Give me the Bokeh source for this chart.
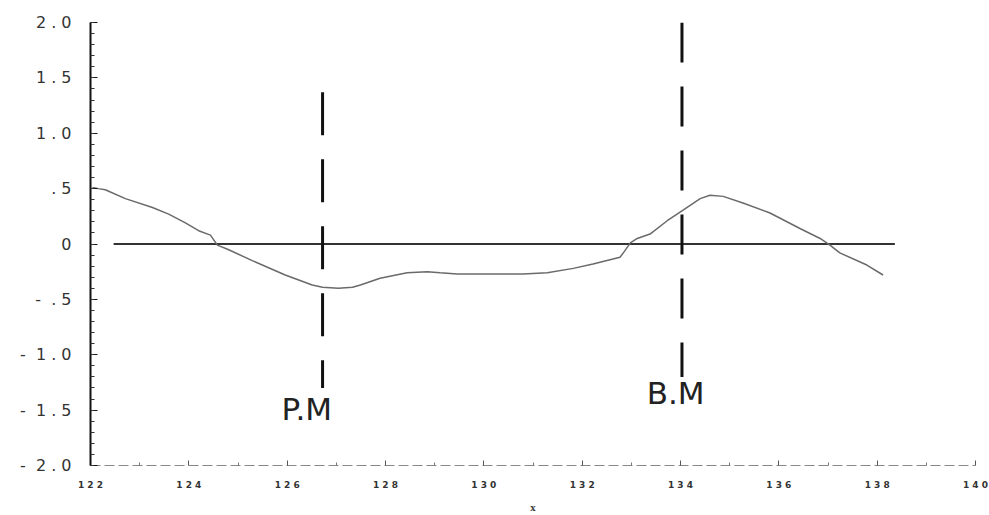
from bokeh.plotting import figure
from bokeh.models import FixedTicker, Label
from bokeh.embed import file_html
from bokeh.resources import INLINE

# Data
curve_x = [122.04, 122.16, 122.30, 122.71, 123.26, 123.59, 123.93, 124.20, 124.44, 124.58,
           124.80, 125.29, 125.96, 126.51, 126.72, 127.04, 127.33, 127.49, 127.89, 128.44,
           128.85, 129.11, 129.46, 130.13, 130.80, 131.29, 131.82, 132.22, 132.77, 132.87,
           132.98, 133.12, 133.38, 133.73, 134.03, 134.40, 134.60, 134.87, 135.27, 135.82,
           136.43, 136.84, 137.04, 137.24, 137.79, 138.12]
curve_y = [0.51, 0.50, 0.49, 0.41, 0.33, 0.27, 0.19, 0.12, 0.08, -0.01,
           -0.05, -0.15, -0.28, -0.37, -0.39, -0.40, -0.39, -0.37, -0.31, -0.26,
           -0.25, -0.26, -0.27, -0.27, -0.27, -0.26, -0.22, -0.18, -0.12, -0.06,
           0.01, 0.05, 0.09, 0.21, 0.30, 0.41, 0.44, 0.43, 0.37, 0.28,
           0.14, 0.05, -0.01, -0.08, -0.19, -0.28]

zero_x = [122.47, 138.36]
zero_y = [0.0, 0.0]

pm_x = [126.72, 126.72]
pm_y = [1.37, -1.30]
bm_x = [134.03, 134.03]
bm_y = [2.0, -1.20]

x_ticks = [122, 124, 126, 128, 130, 132, 134, 136, 138, 140]
x_tick_labels = ["1 2 2", "1 2 4", "1 2 6", "1 2 8", "1 3 0",
                 "1 3 2", "1 3 4", "1 3 6", "1 3 8", "1 4 0"]
y_ticks = [2.0, 1.5, 1.0, 0.5, 0.0, -0.5, -1.0, -1.5, -2.0]
y_tick_labels = ["2 . 0", "1 . 5", "1 . 0", ". 5", "0",
                 "-\u00a0 . 5", "-\u00a0 1 . 0", "-\u00a0 1 . 5", "-\u00a0 2 . 0"]

p = figure(width=989, height=515, x_range=(122, 140), y_range=(-2.0, 2.0),
           output_backend="svg", toolbar_location=None,
           min_border_left=90, min_border_right=14, min_border_top=22, min_border_bottom=50)
p.outline_line_color = None
p.xgrid.visible = False
p.ygrid.visible = False
p.background_fill_color = "white"

# y axis
p.yaxis.ticker = FixedTicker(ticks=y_ticks,
                             minor_ticks=[round(-2.0 + 0.1 * i, 2) for i in range(41)])
p.yaxis.major_label_overrides = {t: l for t, l in zip(y_ticks, y_tick_labels)}
p.yaxis.axis_line_color = "#111111"
p.yaxis.axis_line_width = 2
p.yaxis.major_tick_in = 7
p.yaxis.major_tick_out = 0
p.yaxis.minor_tick_in = 4
p.yaxis.minor_tick_out = 0
p.yaxis.major_tick_line_color = "#111111"
p.yaxis.minor_tick_line_color = "#333333"
p.yaxis.major_label_text_font = "DejaVu Sans"
p.yaxis.major_label_text_font_size = "16px"
p.yaxis.major_label_text_color = "#333333"
p.yaxis.major_label_standoff = 19

# x axis
p.xaxis.ticker = FixedTicker(ticks=x_ticks, minor_ticks=[123, 125, 127, 129, 131, 133, 135, 137, 139])
p.xaxis.major_label_overrides = {t: l for t, l in zip(x_ticks, x_tick_labels)}
p.xaxis.axis_line_color = "#888888"
p.xaxis.axis_line_width = 1
p.xaxis.axis_line_dash = "10 4"
p.xaxis.major_tick_in = 5
p.xaxis.major_tick_out = 0
p.xaxis.minor_tick_in = 3
p.xaxis.minor_tick_out = 0
p.xaxis.major_tick_line_color = "#555555"
p.xaxis.minor_tick_line_color = "#777777"
p.xaxis.major_label_text_font = "DejaVu Sans"
p.xaxis.major_label_text_font_size = "9px"
p.xaxis.major_label_text_font_style = "bold"
p.xaxis.major_label_text_color = "#333333"
p.xaxis.major_label_standoff = 14
p.xaxis.axis_label = "x"
p.xaxis.axis_label_text_font = "DejaVu Serif"
p.xaxis.axis_label_text_font_size = "9px"
p.xaxis.axis_label_text_font_style = "bold"
p.xaxis.axis_label_text_color = "#444444"
p.xaxis.axis_label_standoff = 10

# marks
p.line(zero_x, zero_y, line_color="#333333", line_width=2)
p.line(curve_x, curve_y, line_color="#6a6a6a", line_width=1.5)
p.line(pm_x, pm_y, line_color="#111111", line_width=3, line_dash="43 24")
p.line(bm_x, bm_y, line_color="#111111", line_width=3, line_dash="40 24")

p.add_layout(Label(x=126.4, y=-1.65, text="P.M", text_align="center",
                   text_font="DejaVu Sans", text_font_size="31px", text_color="#222222"))
p.add_layout(Label(x=133.9, y=-1.51, text="B.M", text_align="center",
                   text_font="DejaVu Sans", text_font_size="31px", text_color="#222222"))

open("out.html", "w").write(file_html(p, INLINE))
